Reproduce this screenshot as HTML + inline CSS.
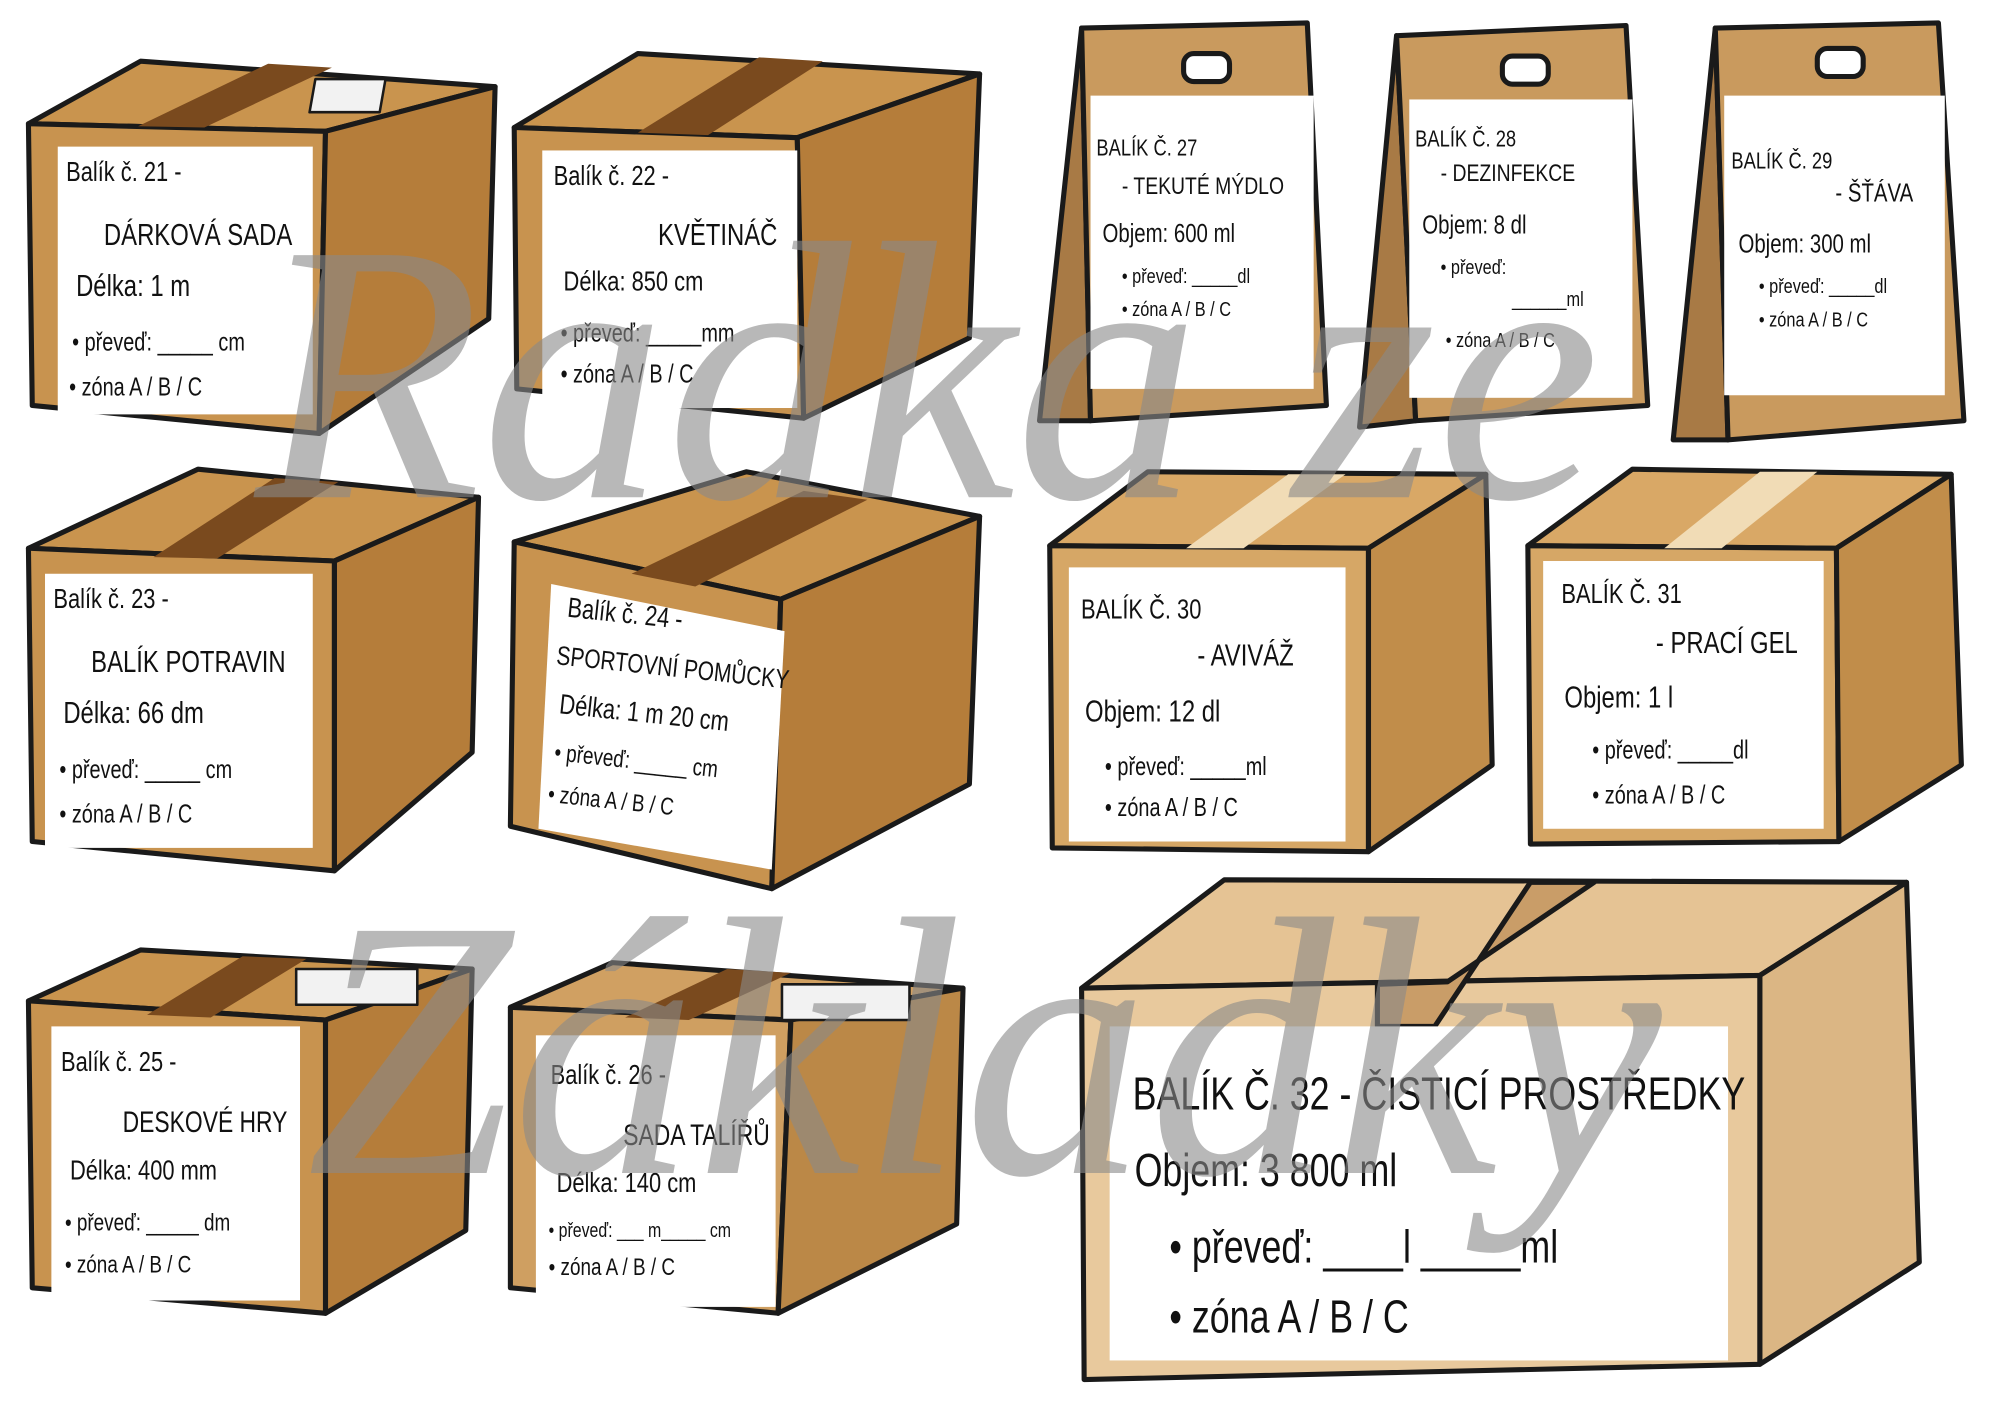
<!DOCTYPE html>
<html><head><meta charset="utf-8"><style>
html,body{margin:0;padding:0;background:#fff;width:2000px;height:1414px;overflow:hidden}
svg{display:block}
text{font-family:"Liberation Sans Narrow","Liberation Sans",sans-serif;fill:#111}
.wm{font-family:"Liberation Serif",serif;font-style:italic;fill:#8a8a8a;opacity:.6}
</style></head><body>
<svg width="2000" height="1414" viewBox="0 0 1568 1109" xmlns="http://www.w3.org/2000/svg">
<g stroke="#1a1a1a" stroke-width="4" stroke-linejoin="round">
<polygon points="22,97 110,48 388,68 255,103" fill="#c9944e"/>
<polygon points="22,97 255,103 250,340 25,318" fill="#c8934f"/>
<polygon points="255,103 388,68 383,250 250,340" fill="#b57d3a"/>
<polygon points="210,50 260,53 160,100 108,99" fill="#7a4a1e" stroke="none"/>
<rect x="258" y="62" width="55" height="26" fill="#f2f2f2" stroke-width="2" transform="skewX(-10)"/>
<polygon points="403,100 500,42 768,58 625,108" fill="#c9944e"/>
<polygon points="403,100 625,108 630,328 405,305" fill="#c8934f"/>
<polygon points="625,108 768,58 760,265 630,328" fill="#b57d3a"/>
<polygon points="595,45 645,48 555,106 500,104" fill="#7a4a1e" stroke="none"/>
<polygon points="848,22 815,330 855,330" fill="#a87a45"/>
<polygon points="848,22 1025,18 1040,318 855,330" fill="#c99a5e"/>
<rect x="928" y="42" width="36" height="22" rx="8" fill="#fff"/>
<polygon points="1095,28 1066,335 1110,330" fill="#a87a45"/>
<polygon points="1095,28 1275,20 1292,318 1110,330" fill="#c99a5e"/>
<rect x="1178" y="44" width="36" height="22" rx="8" fill="#fff"/>
<polygon points="1345,22 1312,345 1355,345" fill="#a87a45"/>
<polygon points="1345,22 1520,18 1540,330 1355,345" fill="#c99a5e"/>
<rect x="1425" y="38" width="36" height="22" rx="8" fill="#fff"/>
<polygon points="22,430 155,368 375,390 262,440" fill="#c9944e"/>
<polygon points="22,430 262,440 262,683 25,660" fill="#c8934f"/>
<polygon points="262,440 375,390 370,590 262,683" fill="#b57d3a"/>
<polygon points="215,375 265,378 170,438 120,437" fill="#7a4a1e" stroke="none"/>
<polygon points="403,425 585,370 768,405 612,470" fill="#c9944e"/>
<polygon points="403,425 612,470 605,697 400,648" fill="#c8934f"/>
<polygon points="612,470 768,405 760,615 605,697" fill="#b57d3a"/>
<polygon points="630,385 680,392 545,460 495,450" fill="#7a4a1e" stroke="none"/>
<polygon points="823,428 900,370 1165,372 1073,430" fill="#d9a866"/>
<polygon points="823,428 1073,430 1073,668 825,665" fill="#d6a766"/>
<polygon points="1073,430 1165,372 1170,600 1073,668" fill="#c18d4a"/>
<polygon points="1010,372 1055,372 975,430 930,430" fill="#f1dcb6" stroke="none"/>
<polygon points="1198,428 1280,368 1530,372 1440,430" fill="#d9a866"/>
<polygon points="1198,428 1440,430 1442,660 1200,662" fill="#d6a766"/>
<polygon points="1440,430 1530,372 1538,600 1442,660" fill="#c18d4a"/>
<polygon points="1380,370 1425,370 1350,430 1305,430" fill="#f1dcb6" stroke="none"/>
<polygon points="22,785 110,745 370,760 255,800" fill="#c9944e"/>
<polygon points="22,785 255,800 255,1030 25,1010" fill="#c8934f"/>
<polygon points="255,800 370,760 365,965 255,1030" fill="#b57d3a"/>
<polygon points="190,750 240,752 165,798 115,796" fill="#7a4a1e" stroke="none"/>
<rect x="232" y="760" width="95" height="28" fill="#f2f2f2" stroke-width="2"/>
<polygon points="400,790 480,755 755,775 620,800" fill="#d0a062"/>
<polygon points="400,790 620,800 610,1030 400,1010" fill="#cf9f61"/>
<polygon points="620,800 755,775 750,960 610,1030" fill="#bb8847"/>
<polygon points="570,760 620,763 540,800 490,798" fill="#7a4a1e" stroke="none"/>
<rect x="613" y="772" width="100" height="28" fill="#f2f2f2" stroke-width="2"/>
<polygon points="848,775 960,690 1495,692 1380,765" fill="#e5c394"/>
<polygon points="848,775 1380,765 1380,1070 850,1082" fill="#e8c99d"/>
<polygon points="1380,765 1495,692 1505,990 1380,1070" fill="#dbb684"/>
<polygon points="1200,692 1250,692 1135,770 1080,772 1080,805 1125,805" fill="#c99d68"/>
</g>
<g fill="#fff" stroke="none">
<rect x="45" y="115" width="200" height="210"/>
<rect x="425" y="118" width="200" height="202"/>
<rect x="855" y="75" width="175" height="230"/>
<rect x="1105" y="78" width="175" height="234"/>
<rect x="1352" y="75" width="173" height="235"/>
<rect x="35" y="450" width="210" height="215"/>
<polygon points="432,458 615,495 605,682 422,650"/>
<rect x="838" y="445" width="217" height="215"/>
<rect x="1210" y="440" width="220" height="210"/>
<rect x="40" y="805" width="195" height="215"/>
<rect x="420" y="812" width="188" height="213"/>
<rect x="870" y="805" width="485" height="262"/>
</g>
<g font-size="22">
<g transform="translate(50 0) scale(0.78 1) translate(-50 0)"><text x="52" y="142">Balík č. 21 -</text><text x="90" y="192" font-size="24">DÁRKOVÁ SADA</text><text x="62" y="232" font-size="24">Délka: 1 m</text><text x="58" y="275" font-size="20">• převeď: _____ cm</text><text x="55" y="310" font-size="20">• zóna A / B / C</text></g>
<g transform="translate(430 0) scale(0.78 1) translate(-430 0)"><text x="435" y="145">Balík č. 22 -</text><text x="540" y="192" font-size="24">KVĚTINÁČ</text><text x="445" y="228" font-size="22">Délka: 850 cm</text><text x="442" y="268" font-size="20">• převeď: _____mm</text><text x="442" y="300" font-size="20">• zóna A / B / C</text></g>
<g transform="translate(858 0) scale(0.8 1) translate(-858 0)"><text x="860" y="122" font-size="18">BALÍK Č. 27</text><text x="885" y="152" font-size="19">- TEKUTÉ MÝDLO</text><text x="866" y="190" font-size="20">Objem: 600 ml</text><text x="885" y="222" font-size="16">• převeď: _____dl</text><text x="885" y="248" font-size="16">• zóna A / B / C</text></g>
<g transform="translate(1108 0) scale(0.8 1) translate(-1108 0)"><text x="1110" y="115" font-size="18">BALÍK Č. 28</text><text x="1135" y="142" font-size="19">- DEZINFEKCE</text><text x="1117" y="183" font-size="20">Objem: 8 dl</text><text x="1135" y="215" font-size="16">• převeď:</text><text x="1205" y="240" font-size="16">______ml</text><text x="1140" y="272" font-size="16">• zóna A / B / C</text></g>
<g transform="translate(1356 0) scale(0.8 1) translate(-1356 0)"><text x="1358" y="132" font-size="18">BALÍK Č. 29</text><text x="1460" y="158" font-size="20">- ŠŤÁVA</text><text x="1365" y="198" font-size="20">Objem: 300 ml</text><text x="1385" y="230" font-size="16">• převeď: _____dl</text><text x="1385" y="256" font-size="16">• zóna A / B / C</text></g>
<g transform="translate(40 0) scale(0.78 1) translate(-40 0)"><text x="42" y="477">Balík č. 23 -</text><text x="80" y="527" font-size="24">BALÍK POTRAVIN</text><text x="52" y="567" font-size="24">Délka: 66 dm</text><text x="48" y="610" font-size="20">• převeď: _____ cm</text><text x="48" y="645" font-size="20">• zóna A / B / C</text></g>
<g transform="rotate(6 520 560)"><g transform="translate(432 0) scale(0.78 1) translate(-432 0)"><text x="438" y="492">Balík č. 24 -</text><text x="432" y="530" font-size="21">SPORTOVNÍ POMŮCKY</text><text x="440" y="568" font-size="22">Délka: 1 m 20 cm</text><text x="440" y="605" font-size="19">• převeď: _____ cm</text><text x="438" y="638" font-size="19">• zóna A / B / C</text></g></g>
<g transform="translate(846 0) scale(0.78 1) translate(-846 0)"><text x="848" y="485">BALÍK Č. 30</text><text x="965" y="522" font-size="24">- AVIVÁŽ</text><text x="852" y="566" font-size="24">Objem: 12 dl</text><text x="872" y="608" font-size="20">• převeď: _____ml</text><text x="872" y="640" font-size="20">• zóna A / B / C</text></g>
<g transform="translate(1222 0) scale(0.78 1) translate(-1222 0)"><text x="1225" y="473">BALÍK Č. 31</text><text x="1320" y="512" font-size="24">- PRACÍ GEL</text><text x="1228" y="555" font-size="24">Objem: 1 l</text><text x="1256" y="595" font-size="20">• převeď: _____dl</text><text x="1256" y="630" font-size="20">• zóna A / B / C</text></g>
<g transform="translate(46 0) scale(0.78 1) translate(-46 0)"><text x="48" y="840">Balík č. 25 -</text><text x="110" y="888" font-size="23">DESKOVÉ HRY</text><text x="57" y="925" font-size="22">Délka: 400 mm</text><text x="52" y="965" font-size="19">• převeď: _____ dm</text><text x="52" y="998" font-size="19">• zóna A / B / C</text></g>
<g transform="translate(430 0) scale(0.78 1) translate(-430 0)"><text x="432" y="850">Balík č. 26 -</text><text x="505" y="898" font-size="23">SADA TALÍŘŮ</text><text x="438" y="935" font-size="22">Délka: 140 cm</text><text x="430" y="970" font-size="16">• převeď: ___ m_____ cm</text><text x="430" y="1000" font-size="19">• zóna A / B / C</text></g>
<g transform="translate(888 0) scale(0.78 1) translate(-888 0)"><text x="888" y="870" font-size="36">BALÍK Č. 32 - ČISTICÍ PROSTŘEDKY</text><text x="890" y="930" font-size="36">Objem: 3 800 ml</text><text x="925" y="990" font-size="36">• převeď: ____l _____ml</text><text x="925" y="1045" font-size="36">• zóna A / B / C</text></g>
</g>
<text class="wm" x="200" y="390" font-size="290">Radka ze</text>
<text class="wm" x="240" y="920" font-size="290">Základky</text>
</svg>
</body></html>
